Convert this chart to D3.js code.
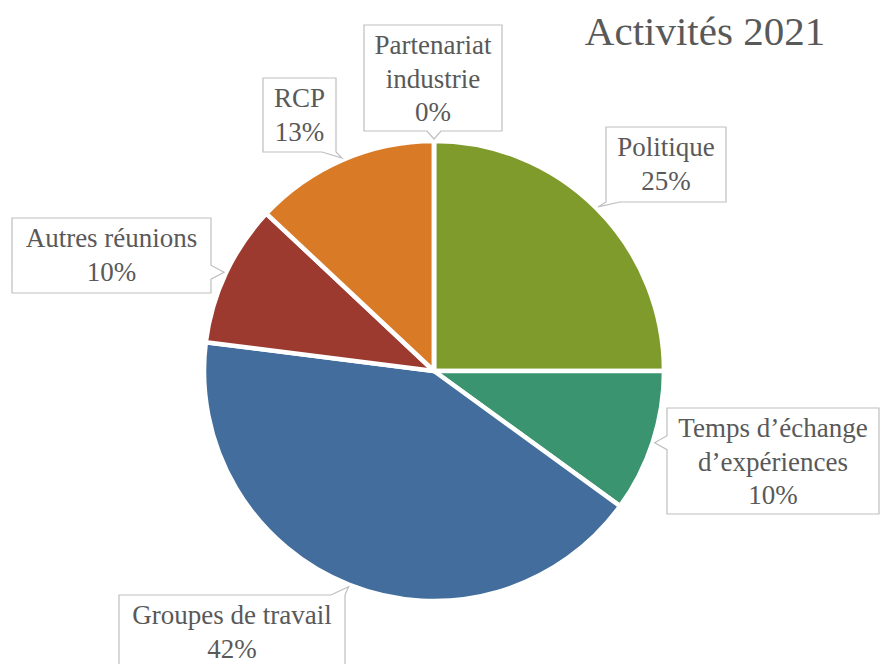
<!DOCTYPE html>
<html>
<head>
<meta charset="utf-8">
<script src="https://cdn.jsdelivr.net/npm/d3@7"></script>
<style>
  body { margin: 0; background: #fff; }
</style>
</head>
<body>
<script>
// data
const categories = ["Politique", "Temps d’échange d’expériences", "Groupes de travail",
                    "Autres réunions", "RCP", "Partenariat industrie"];
const values = [25, 10, 42, 10, 13, 0];
const percentLabels = ["25%", "10%", "42%", "10%", "13%", "0%"];
const labelLines = [
  ["Politique"],
  ["Temps d’échange", "d’expériences"],
  ["Groupes de travail"],
  ["Autres réunions"],
  ["RCP"],
  ["Partenariat", "industrie"]
];
const sliceColors = ["#7f9b2c", "#3a9470", "#426d9c", "#9d3a2f", "#d97a27", "#8064a2"];

// layout
const W = 881, H = 664;
const CX = 434, CY = 371, R = 230;
const LINE_H = 33.5;
const FONT = "'Liberation Serif', 'Times New Roman', serif";
const TEXT_COLOR = "#595959";

// callout boxes [x, y, w, h, side the pointer leaves from]
const boxes = [
  [606, 127, 120, 75, "bottom"],
  [667, 408, 212, 106, "left"],
  [119, 595, 226, 78, "top"],
  [12, 218, 199, 75, "right"],
  [263, 78, 73, 74, "bottom"],
  [364, 25, 138, 106, "bottom"]
];

const svg = d3.select("body").append("svg")
  .attr("width", W)
  .attr("height", H);

const pie = d3.pie().sort(null).value(d => d)(values);
const arc = d3.arc().innerRadius(0).outerRadius(R);
const edge = d3.arc().innerRadius(R + 2).outerRadius(R + 2);

const g = svg.append("g").attr("transform", `translate(${CX},${CY})`);

g.selectAll("path.slice")
  .data(pie)
  .enter()
  .append("path")
  .attr("class", "slice")
  .attr("d", arc)
  .attr("fill", (d, i) => sliceColors[i])
  .attr("stroke", "#fff")
  .attr("stroke-width", 4.5)
  .attr("stroke-linejoin", "round");

// callout path: rectangle with a wedge pointing at (tx, ty)
function callout(b, tx, ty) {
  const [x, y, w, h, side] = b;
  const half = 7;
  const clamp = (v, lo, hi) => Math.max(lo, Math.min(hi, v));
  const pts = [];
  if (side === "bottom") {
    const c = clamp(tx, x + half, x + w - half);
    pts.push([x, y], [x + w, y], [x + w, y + h], [c + half, y + h], [tx, ty], [c - half, y + h], [x, y + h]);
  } else if (side === "top") {
    const c = clamp(tx, x + half, x + w - half);
    pts.push([x, y], [c - half, y], [tx, ty], [c + half, y], [x + w, y], [x + w, y + h], [x, y + h]);
  } else if (side === "left") {
    const c = clamp(ty, y + half, y + h - half);
    pts.push([x, y], [x + w, y], [x + w, y + h], [x, y + h], [x, c + half], [tx, ty], [x, c - half]);
  } else {
    const c = clamp(ty, y + half, y + h - half);
    pts.push([x, y], [x + w, y], [x + w, c - half], [tx, ty], [x + w, c + half], [x + w, y + h], [x, y + h]);
  }
  return "M" + pts.map(p => p.join(",")).join("L") + "Z";
}

const labels = svg.append("g").selectAll("g")
  .data(pie)
  .enter()
  .append("g");

labels.append("path")
  .attr("d", (d, i) => {
    const [ex, ey] = edge.centroid(d);
    return callout(boxes[i], CX + ex, CY + ey);
  })
  .attr("fill", "#fff")
  .attr("stroke", "#bfbfbf")
  .attr("stroke-width", 1.2);

labels.each(function (d, i) {
  const [x, y, w] = boxes[i];
  const lines = labelLines[i].concat([percentLabels[i]]);
  const t = d3.select(this).append("text")
    .attr("text-anchor", "middle")
    .attr("font-family", FONT)
    .attr("fill", TEXT_COLOR)
    .attr("font-size", 27);
  lines.forEach((s, k) => {
    t.append("tspan")
      .attr("x", x + w / 2)
      .attr("y", y + 29 + k * LINE_H)
      .text(s);
  });
});

// title
svg.append("text")
  .attr("x", 705)
  .attr("y", 45)
  .attr("text-anchor", "middle")
  .attr("font-family", FONT)
  .attr("fill", TEXT_COLOR)
  .attr("font-size", 41)
  .text("Activités 2021");
</script>
</body>
</html>
